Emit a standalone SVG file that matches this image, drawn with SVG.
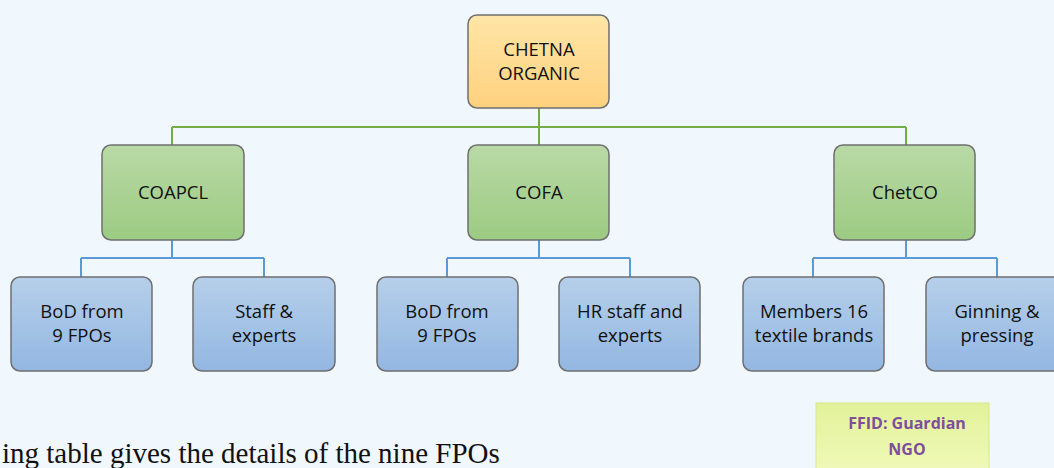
<svg xmlns="http://www.w3.org/2000/svg" width="1054" height="468" viewBox="0 0 1054 468">
<defs>
<linearGradient id="gOrange" x1="0" y1="0" x2="0" y2="1"><stop offset="0" stop-color="#ffe6a8"/><stop offset="1" stop-color="#ffd17e"/></linearGradient>
<linearGradient id="gGreen" x1="0" y1="0" x2="0" y2="1"><stop offset="0" stop-color="#b9d9a6"/><stop offset="1" stop-color="#9ccb82"/></linearGradient>
<linearGradient id="gBlue" x1="0" y1="0" x2="0" y2="1"><stop offset="0" stop-color="#b6cfea"/><stop offset="1" stop-color="#93b7e2"/></linearGradient>
<linearGradient id="gLime" x1="0" y1="0" x2="0" y2="1"><stop offset="0" stop-color="#e2f29a"/><stop offset="1" stop-color="#f0f9b8"/></linearGradient>
<style>
.box{stroke:#6f6f6f;stroke-width:1.5}
.org{fill:url(#gOrange)}
.grn{fill:url(#gGreen)}
.blu{fill:url(#gBlue)}
.t{font-family:"Open Sans","Noto Sans",sans-serif;font-size:18.5px;fill:#111;text-anchor:middle}
.f{font-family:"Open Sans","Noto Sans",sans-serif;font-size:16px;font-weight:bold;fill:#7d4f9c;text-anchor:middle}
.cg{fill:none;stroke:#74ad45;stroke-width:2}
.cb{fill:none;stroke:#5b9bd5;stroke-width:2}
</style>
</defs>
<rect x="0" y="0" width="1054" height="468" fill="#f0f7fd"/>
<g id="connectors">
<path class="cg" d="M539 108V127M172 127H906M172 127V145M539 127V145M906 127V145"/>
<path class="cb" d="M172 240V258M81 258H264M81 258V277M264 258V277"/>
<path class="cb" d="M539 240V258M447 258H630M447 258V277M630 258V277"/>
<path class="cb" d="M906 240V258M813 258H997M813 258V277M997 258V277"/>
</g>
<g id="chetna"><rect class="box org" x="468" y="15" width="141" height="93" rx="9"/><text class="t" x="539" y="56">CHETNA</text><text class="t" x="539" y="80">ORGANIC</text></g>
<g id="coapcl"><rect class="box grn" x="102" y="145" width="142" height="95" rx="9"/><text class="t" x="173" y="199">COAPCL</text></g>
<g id="cofa"><rect class="box grn" x="468" y="145" width="141" height="95" rx="9"/><text class="t" x="539" y="199">COFA</text></g>
<g id="chetco"><rect class="box grn" x="834" y="145" width="141" height="95" rx="9"/><text class="t" x="905" y="199">ChetCO</text></g>
<g id="bod1"><rect class="box blu" x="11" y="277" width="141" height="94" rx="9"/><text class="t" x="82" y="318">BoD from</text><text class="t" x="82" y="342">9 FPOs</text></g>
<g id="staff1"><rect class="box blu" x="193" y="277" width="142" height="94" rx="9"/><text class="t" x="264" y="318">Staff &amp;</text><text class="t" x="264" y="342">experts</text></g>
<g id="bod2"><rect class="box blu" x="377" y="277" width="141" height="94" rx="9"/><text class="t" x="447" y="318">BoD from</text><text class="t" x="447" y="342">9 FPOs</text></g>
<g id="hrstaff"><rect class="box blu" x="559" y="277" width="141" height="94" rx="9"/><text class="t" x="630" y="318">HR staff and</text><text class="t" x="630" y="342">experts</text></g>
<g id="members"><rect class="box blu" x="743" y="277" width="141" height="94" rx="9"/><text class="t" x="814" y="318">Members 16</text><text class="t" x="814" y="342">textile brands</text></g>
<g id="ginning"><rect class="box blu" x="926" y="277" width="142" height="94" rx="9"/><text class="t" x="997" y="318">Ginning &amp;</text><text class="t" x="997" y="342">pressing</text></g>
<g id="ffid"><rect x="816" y="403" width="173" height="70" fill="url(#gLime)" stroke="#d8e88a" stroke-width="1"/><text class="f" x="907" y="429">FFID: Guardian</text><text class="f" x="907" y="455">NGO</text></g>
<text x="2" y="463" font-family="'Liberation Serif',serif" font-size="29" fill="#111">ing table gives the details of the nine FPOs</text>
</svg>
